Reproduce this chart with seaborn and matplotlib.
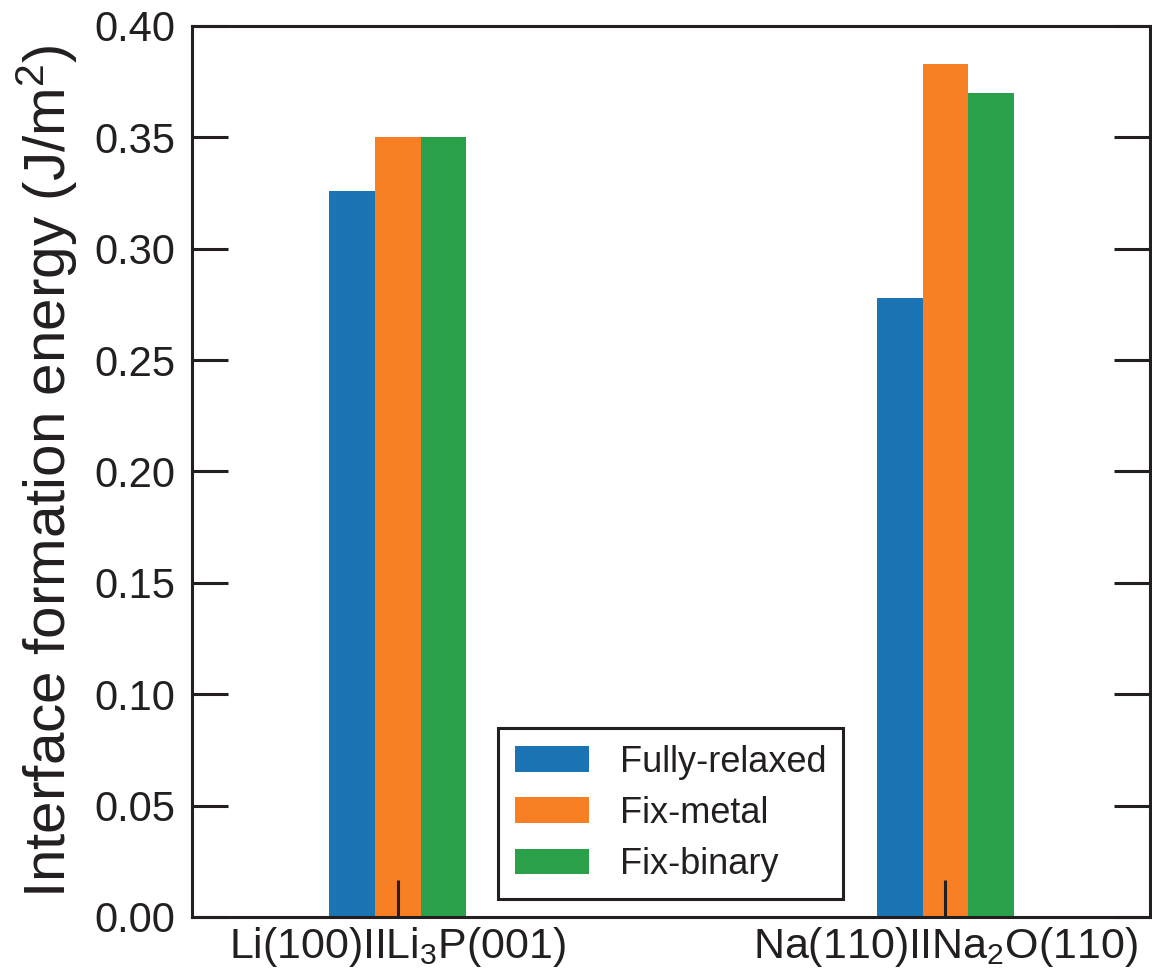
import pandas as pd
import matplotlib
matplotlib.use("Agg")
import matplotlib.pyplot as plt
import seaborn as sns

# data
interfaces = ["Li(100)IILi$_3$P(001)", "Na(110)IINa$_2$O(110)"]
methods = ["Fully-relaxed", "Fix-metal", "Fix-binary"]
fully_relaxed = [0.326, 0.278]
fix_metal = [0.350, 0.383]
fix_binary = [0.350, 0.370]

colors = {"Fully-relaxed": "#1b75b4", "Fix-metal": "#f68023", "Fix-binary": "#2aa04a"}
ink = "#231f20"

sns.set_style("ticks")
plt.rcParams["font.family"] = ["Liberation Sans", "DejaVu Sans"]
plt.rcParams["mathtext.fontset"] = "custom"
plt.rcParams["mathtext.rm"] = "Liberation Sans"
plt.rcParams["mathtext.it"] = "Liberation Sans:italic"
plt.rcParams["mathtext.bf"] = "Liberation Sans:bold"

rows = []
for method, vals in zip(methods, [fully_relaxed, fix_metal, fix_binary]):
    for iface, v in zip(interfaces, vals):
        rows.append({"Interface": iface, "Method": method, "Energy": v})
df = pd.DataFrame(rows)

fig = plt.figure(figsize=(11.52, 9.72), dpi=100)
ax = fig.add_axes([0.1667, 0.0566, 0.8313, 0.9167])

sns.barplot(data=df, x="Interface", y="Energy", hue="Method", hue_order=methods,
            palette=colors, width=0.25, saturation=1, linewidth=0, ax=ax)

ax.set_xlim(-0.376, 1.373)
ax.set_ylim(0, 0.40)
ax.set_yticks([0.0, 0.05, 0.10, 0.15, 0.20, 0.25, 0.30, 0.35, 0.40])
ax.set_yticklabels([f"{t:.2f}" for t in ax.get_yticks()])
ax.set_xlabel("")
ax.set_ylabel("Interface formation energy (J/m$^2$)", fontsize=42, color=ink, labelpad=10)
ax.set_axisbelow(False)

for s in ax.spines.values():
    s.set_visible(True)
    s.set_linewidth(2.2)
    s.set_color(ink)

ax.tick_params(axis="y", which="major", direction="in", length=26, width=2.2,
               left=True, right=True, labelsize=30, colors=ink, pad=12)
ax.tick_params(axis="x", which="major", direction="in", length=26.5, width=2.2,
               bottom=True, top=False, labelsize=31, colors=ink, pad=6)

leg = ax.legend(loc="lower left", bbox_to_anchor=(0.319, 0.02), borderaxespad=0,
                fontsize=26, frameon=True, fancybox=False, framealpha=1,
                handlelength=2.05, handleheight=0.72, handletextpad=0.86,
                labelspacing=0.45, borderpad=0.47)
leg.get_frame().set_edgecolor(ink)
leg.get_frame().set_linewidth(2.2)
for t in leg.get_texts():
    t.set_color(ink)

plt.savefig("out.png", dpi=100)
plt.close()
